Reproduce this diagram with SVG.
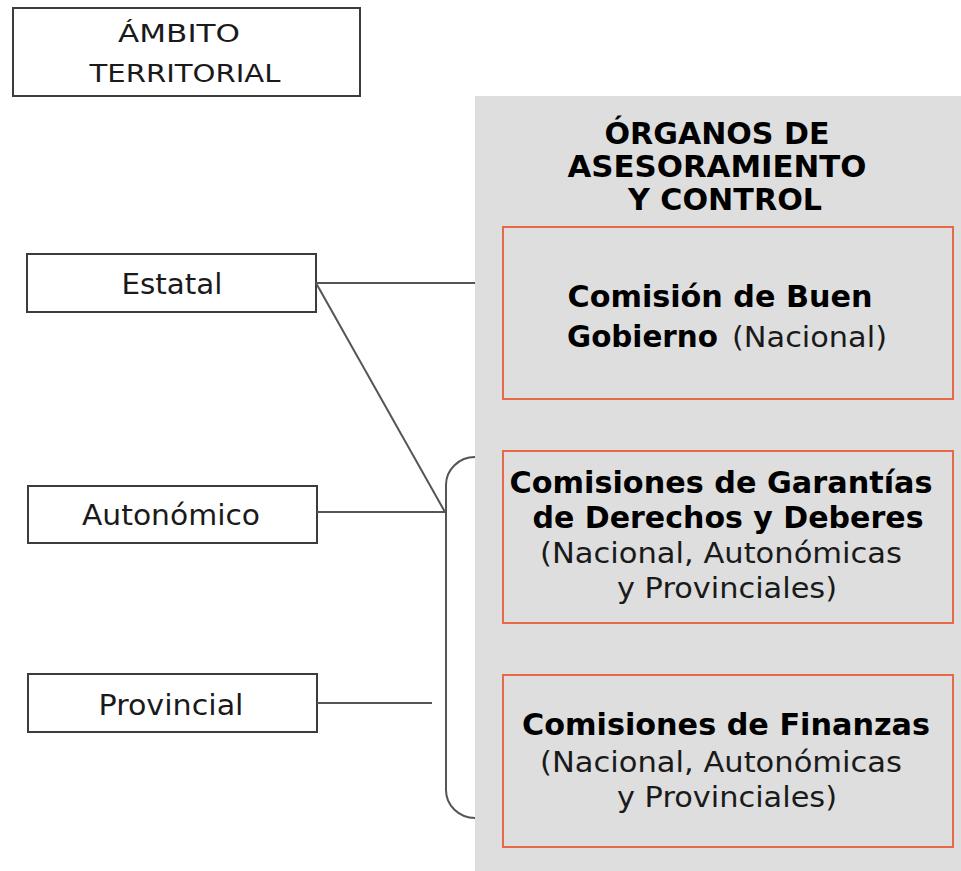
<svg xmlns="http://www.w3.org/2000/svg" width="961" height="871" viewBox="0 0 961 871">
<style>
text{font-family:"DejaVu Sans",Verdana,sans-serif;fill:#1a1a1a;text-anchor:middle}
.lbl{font-size:28px}
.hd{font-size:25px}
.b{font-weight:bold;font-size:30px;fill:#000}
.r{font-size:28px}
.box{fill:#fff;stroke:#3c3c3c;stroke-width:2}
.org{fill:none;stroke:#e8684c;stroke-width:2}
.ln{fill:none;stroke:#555;stroke-width:2}
</style>
<rect x="475" y="96" width="486" height="775" fill="#dedede"/>
<g id="ambito">
<rect class="box" x="13" y="8" width="347" height="88"/>
<text class="hd" x="179" y="42" textLength="122" lengthAdjust="spacingAndGlyphs">ÁMBITO</text>
<text class="hd" x="185" y="82" textLength="191" lengthAdjust="spacingAndGlyphs">TERRITORIAL</text>
</g>
<g id="estatal">
<rect class="box" x="27" y="254" width="289" height="58"/>
<text class="lbl" x="172" y="294" textLength="101" lengthAdjust="spacingAndGlyphs">Estatal</text>
</g>
<g id="autonomico">
<rect class="box" x="28" y="486" width="289" height="57"/>
<text class="lbl" x="171" y="525" textLength="178" lengthAdjust="spacingAndGlyphs">Autonómico</text>
</g>
<g id="provincial">
<rect class="box" x="28" y="674" width="289" height="58"/>
<text class="lbl" x="171" y="715" textLength="145" lengthAdjust="spacingAndGlyphs">Provincial</text>
</g>
<g id="organos">
<text class="b" x="717" y="144" textLength="225" lengthAdjust="spacingAndGlyphs">ÓRGANOS DE</text>
<text class="b" x="717" y="177" textLength="299" lengthAdjust="spacingAndGlyphs">ASESORAMIENTO</text>
<text class="b" x="725" y="210" textLength="194" lengthAdjust="spacingAndGlyphs">Y CONTROL</text>
</g>
<g id="buen-gobierno">
<rect class="org" x="503" y="227" width="450" height="172"/>
<text class="b" x="720" y="307" textLength="305" lengthAdjust="spacingAndGlyphs">Comisión de Buen</text>
<text class="b" x="567" y="347" style="text-anchor:start" textLength="151" lengthAdjust="spacingAndGlyphs">Gobierno</text>
<text class="r" x="732" y="347" style="text-anchor:start" textLength="155" lengthAdjust="spacingAndGlyphs">(Nacional)</text>
</g>
<g id="garantias">
<rect class="org" x="503" y="451" width="450" height="172"/>
<text class="b" x="721" y="493" textLength="423" lengthAdjust="spacingAndGlyphs">Comisiones de Garantías</text>
<text class="b" x="728" y="528" textLength="391" lengthAdjust="spacingAndGlyphs">de Derechos y Deberes</text>
<text class="r" x="721" y="563" textLength="362" lengthAdjust="spacingAndGlyphs">(Nacional, Autonómicas</text>
<text class="r" x="727" y="598" textLength="220" lengthAdjust="spacingAndGlyphs">y Provinciales)</text>
</g>
<g id="finanzas">
<rect class="org" x="503" y="675" width="450" height="172"/>
<text class="b" x="726" y="735" textLength="408" lengthAdjust="spacingAndGlyphs">Comisiones de Finanzas</text>
<text class="r" x="721" y="772" textLength="362" lengthAdjust="spacingAndGlyphs">(Nacional, Autonómicas</text>
<text class="r" x="727" y="807" textLength="220" lengthAdjust="spacingAndGlyphs">y Provinciales)</text>
</g>
<g id="connectors">
<line class="ln" x1="316" y1="283" x2="475" y2="283"/>
<line class="ln" x1="316" y1="283" x2="445" y2="512"/>
<line class="ln" x1="317" y1="512" x2="446" y2="512"/>
<line class="ln" x1="317" y1="703" x2="432" y2="703"/>
<path class="ln" d="M475,457 A29,28 0 0 0 446,485 L446,790 A29,28 0 0 0 475,818"/>
</g>
</svg>
